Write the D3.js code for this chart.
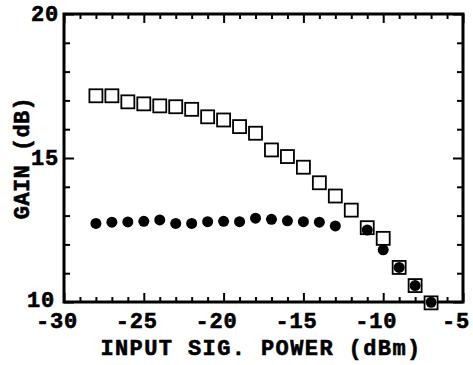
<!DOCTYPE html>
<html>
<head>
<meta charset="utf-8">
<script src="https://cdn.jsdelivr.net/npm/d3@7"></script>
<style>
  html, body { margin: 0; padding: 0; background: #fff; }
  svg { display: block; }
  text { font-family: "Liberation Mono", "DejaVu Sans Mono", monospace; font-weight: bold; fill: #000; stroke: #000; stroke-width: 0.6px; }
</style>
</head>
<body>
<svg id="chart" width="473" height="365"></svg>
<script>
// ---- data ----
const squareX = [-28, -27, -26, -25, -24, -23, -22, -21, -20, -19, -18, -17, -16, -15, -14, -13, -12, -11, -10, -9, -8, -7];
const squareGain = [17.16, 17.16, 16.95, 16.88, 16.81, 16.78, 16.69, 16.43, 16.32, 16.09, 15.86, 15.28, 15.05, 14.68, 14.14, 13.68, 13.19, 12.58, 12.21, 11.2, 10.57, 9.97];
const circleX = [-28, -27, -26, -25, -24, -23, -22, -21, -20, -19, -18, -17, -16, -15, -14, -13, -11, -10, -9, -8, -7];
const circleGain = [12.73, 12.77, 12.78, 12.80, 12.85, 12.73, 12.73, 12.79, 12.80, 12.79, 12.91, 12.87, 12.82, 12.79, 12.77, 12.64, 12.5, 11.81, 11.2, 10.57, 9.99];
const xMajorTicks = [-30, -25, -20, -15, -10, -5];
const xMinorTicks = d3.range(-29, -5, 1).filter(v => v % 5 !== 0);
const yMajorTicks = [10, 15, 20];
const yMinorTicks = [11, 12, 13, 14, 16, 17, 18, 19];
const xTitle = "INPUT SIG. POWER (dBm)";
const yTitle = "GAIN (dB)";

// ---- layout ----
const L = 64, R = 463, T = 14, B = 302;
const svg = d3.select("#chart");
const x = d3.scaleLinear().domain([-30, -5]).range([L, R]);
const y = d3.scaleLinear().domain([10, 20]).range([B, T]);

function styleAxis(g) {
  g.select(".domain").remove();
  g.selectAll(".tick line").attr("stroke", "#000").attr("stroke-width", 2);
}
function styleLabels(sel) {
  sel.attr("font-family", null).attr("font-size", null)
    .style("font-family", "'Liberation Mono', monospace").style("font-weight", "bold")
    .style("font-size", "22px").style("letter-spacing", "0.8px");
}

// bottom axis
svg.append("g").attr("transform", `translate(0,${B})`)
  .call(d3.axisBottom(x).tickValues(xMinorTicks).tickSize(-5).tickFormat(""))
  .call(styleAxis);
const xb = svg.append("g").attr("transform", `translate(0,${B})`)
  .call(d3.axisBottom(x).tickValues(xMajorTicks).tickSize(-9).tickPadding(0).tickFormat(d => "-" + Math.abs(d)))
  .call(styleAxis);
xb.selectAll(".tick text").call(styleLabels)
  .attr("x", -7.5).attr("y", 25.5).attr("dy", 0);

// top axis
svg.append("g").attr("transform", `translate(0,${T})`)
  .call(d3.axisTop(x).tickValues(xMinorTicks).tickSize(-5).tickFormat(""))
  .call(styleAxis);
svg.append("g").attr("transform", `translate(0,${T})`)
  .call(d3.axisTop(x).tickValues(xMajorTicks).tickSize(-9).tickFormat(""))
  .call(styleAxis);

// left axis
svg.append("g").attr("transform", `translate(${L},0)`)
  .call(d3.axisLeft(y).tickValues(yMinorTicks).tickSize(-6).tickFormat(""))
  .call(styleAxis);
const yl = svg.append("g").attr("transform", `translate(${L},0)`)
  .call(d3.axisLeft(y).tickValues(yMajorTicks).tickSize(-10).tickPadding(0).tickFormat(d3.format("d")))
  .call(styleAxis);
yl.selectAll(".tick text").call(styleLabels)
  .attr("x", d => d === 10 ? -9 : -5).attr("dy", d => d === 10 ? "0.2em" : "0.3em");

// right axis
svg.append("g").attr("transform", `translate(${R},0)`)
  .call(d3.axisRight(y).tickValues(yMinorTicks).tickSize(-6).tickFormat(""))
  .call(styleAxis);
svg.append("g").attr("transform", `translate(${R},0)`)
  .call(d3.axisRight(y).tickValues(yMajorTicks).tickSize(-10).tickFormat(""))
  .call(styleAxis);

// frame
svg.append("rect").attr("x", L).attr("y", T).attr("width", R - L).attr("height", B - T)
  .attr("fill", "none").attr("stroke", "#000").attr("stroke-width", 3);

// squares
const sq = 13;
svg.append("g").selectAll("rect").data(squareX.map((v, i) => [v, squareGain[i]])).join("rect")
  .attr("x", d => x(d[0]) - sq / 2).attr("y", d => y(d[1]) - sq / 2)
  .attr("width", sq).attr("height", sq)
  .attr("fill", "#fff").attr("stroke", "#000").attr("stroke-width", 1.8);

// circles
svg.append("g").selectAll("circle").data(circleX.map((v, i) => [v, circleGain[i]])).join("circle")
  .attr("cx", d => x(d[0])).attr("cy", d => y(d[1])).attr("r", 5.5)
  .attr("fill", "#000");

// titles
svg.append("text").attr("x", 261).attr("y", 355).attr("text-anchor", "middle")
  .style("font-size", "22px").style("letter-spacing", "1.4px").text(xTitle);
svg.append("text").attr("transform", "translate(29,158) rotate(-90)").attr("text-anchor", "middle")
  .style("font-size", "22px").style("letter-spacing", "0.4px").text(yTitle);
</script>
</body>
</html>
